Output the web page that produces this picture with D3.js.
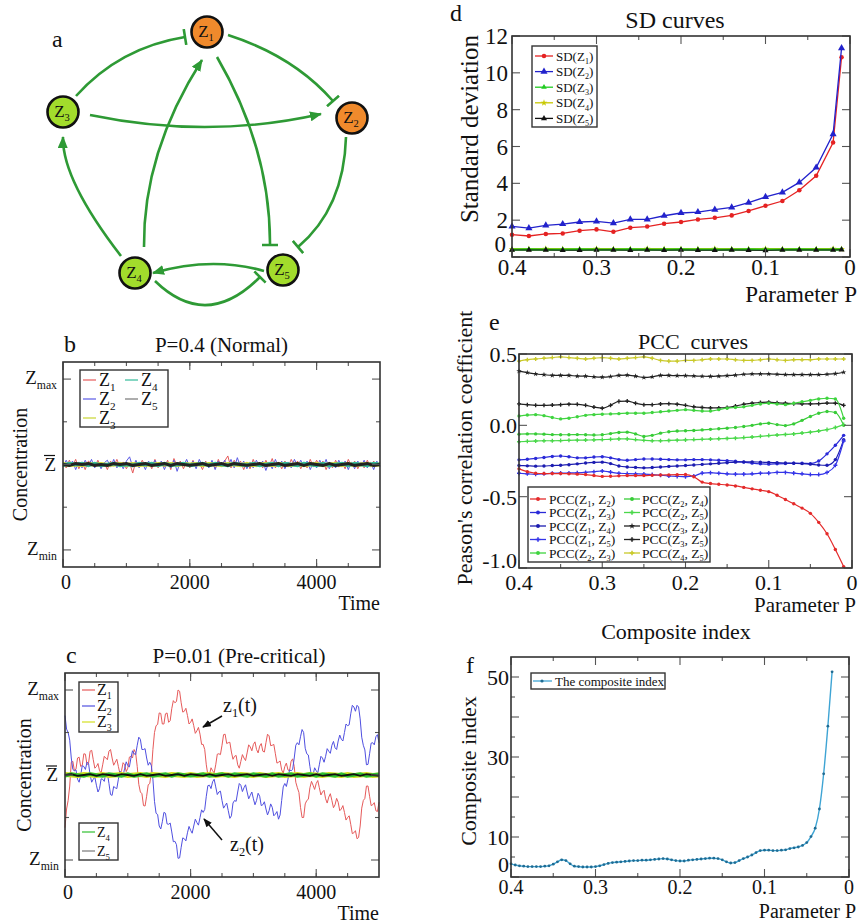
<!DOCTYPE html>
<html>
<head>
<meta charset="utf-8">
<script src="https://cdn.jsdelivr.net/npm/d3@7"></script>
<style>
  body { margin: 0; background: #fff; }
  svg text { font-family: "Liberation Serif", "DejaVu Serif", serif; fill: #111; }
</style>
</head>
<body>
<svg id="fig" width="860" height="923"></svg>
<script>
// ---------------- data ----------------
// panel b : P = 0.4, samples every 50 (Z1, Z2) and every 100 (Z3..Z5) time units
const bStep = 50, bStepSlow = 100;
const bZ1 = [
  0.02,-0.04,0.05,-0.02,0.06,-0.05,0.03,-0.06,0.04,0.01,
  -0.03,0.05,-0.04,0.02,-0.06,0.04,-0.02,0.06,-0.03,0.03,
  -0.05,0.02,-0.10,0.04,-0.03,0.05,-0.02,0.03,-0.05,0.06,
  -0.04,0.02,-0.03,0.05,-0.06,0.07,-0.02,0.04,-0.05,0.03,
  -0.04,0.05,-0.03,0.02,-0.06,0.04,-0.02,0.03,-0.05,0.06,
  -0.03,0.04,0.10,-0.04,0.05,-0.02,0.04,-0.06,0.03,-0.05,
  0.06,-0.03,0.02,-0.04,0.05,-0.02,0.07,-0.04,0.03,-0.05,
  0.04,-0.03,0.06,-0.02,0.04,-0.05,0.03,-0.04,0.06,-0.03,
  0.05,-0.02,0.04,-0.06,0.03,-0.04,0.05,-0.03,0.02,-0.05,
  0.06,-0.02,0.04,-0.05,0.03,-0.04,0.05,-0.03,0.04,-0.02,
  0.03];
const bZ2 = [
  -0.03,0.05,-0.02,0.04,-0.06,0.03,-0.04,0.05,-0.02,0.06,
  -0.04,0.03,-0.05,0.02,0.05,-0.03,0.06,-0.04,0.03,-0.05,
  0.04,0.09,-0.03,0.05,-0.04,0.02,-0.06,0.04,-0.03,0.05,
  -0.02,0.04,-0.06,0.03,-0.04,0.05,-0.08,0.03,-0.02,0.06,
  -0.03,0.04,-0.05,0.06,-0.02,0.03,-0.04,0.05,-0.06,0.04,
  -0.02,0.05,-0.03,0.06,-0.04,0.08,-0.03,0.04,-0.05,0.03,
  -0.04,0.05,-0.02,0.04,-0.07,0.03,-0.05,0.06,-0.03,0.04,
  -0.05,0.03,-0.04,0.06,-0.02,0.05,-0.03,0.04,-0.06,0.03,
  -0.04,0.05,-0.03,0.06,-0.05,0.02,-0.04,0.05,-0.03,0.04,
  -0.06,0.03,-0.05,0.04,-0.02,0.05,-0.04,0.03,-0.06,0.04,
  -0.03];
const bZ3 = [
  0.005,-0.005,0.00,-0.005,0.005,0.00,0.005,-0.005,0.00,0.005,
  -0.005,0.005,-0.005,0.00,-0.005,0.005,0.00,0.005,-0.005,0.005,
  0.00,0.005,-0.005,0.005,0.00,-0.005,0.005,0.00,-0.005,0.005,
  -0.005,0.00,0.005,-0.005,0.005,0.00,-0.005,0.005,-0.005,0.00,
  0.005,-0.005,0.00,0.005,-0.005,0.005,-0.005,0.00,0.005,-0.005,
  0.00];
const bZ4 = [
  -0.01,0.01,0.00,0.01,-0.01,0.01,-0.01,0.00,0.01,-0.01,
  0.00,-0.01,0.01,0.00,0.01,-0.01,0.01,-0.01,0.00,0.01,
  -0.01,0.00,0.01,-0.01,0.01,0.00,-0.01,0.01,0.00,-0.01,
  0.01,-0.01,0.00,0.01,-0.01,0.01,0.00,-0.01,0.01,0.00,
  -0.01,0.01,-0.01,0.00,0.01,-0.01,0.01,0.00,-0.01,0.01,
  0.00];
const bZ5 = [
  0.00,-0.01,0.01,0.00,0.01,-0.01,0.00,-0.01,0.01,0.00,
  0.01,-0.01,0.00,0.01,-0.01,0.00,0.01,-0.01,0.01,0.00,
  -0.01,0.00,0.01,-0.01,0.00,0.01,-0.01,0.01,0.00,-0.01,
  0.00,0.01,-0.01,0.00,0.01,-0.01,0.00,0.01,-0.01,0.01,
  0.00,-0.01,0.01,-0.01,0.00,0.01,-0.01,0.00,0.01,-0.01,
  0.00];

// panel c : P = 0.01, Z1 and Z2 every 25 time units, Z3..Z5 every 100
const cStep = 25, cStepSlow = 100;
const cZ1 = [
  -0.62,-0.40,-0.30,-0.13,0.15,0.16,0.05,0.07,0.20,0.21,0.10,0.115,0.25,0.245,0.12,0.14,0.28,0.29,0.18,0.08,
  0.10,0.135,0.05,0.025,0.12,0.22,0.20,0.18,0.28,0.30,0.20,0.115,0.15,0.185,0.10,0.015,0.05,0.145,0.12,0.04,
  0.08,0.21,0.22,0.20,0.30,0.26,0.10,-0.11,-0.20,-0.22,-0.36,-0.365,-0.25,-0.115,-0.10,0.04,0.30,0.50,0.58,0.595,
  0.73,0.725,0.60,0.60,0.72,0.73,0.62,0.64,0.78,0.875,0.85,0.865,1.00,0.985,0.85,0.74,0.75,0.785,0.70,0.60,
  0.62,0.66,0.58,0.49,0.52,0.56,0.48,0.36,0.36,0.30,0.12,0.00,0.00,0.085,0.05,0.025,0.12,0.245,0.25,0.24,
  0.35,0.475,0.48,0.37,0.38,0.385,0.27,0.185,0.22,0.23,0.12,0.08,0.16,0.24,0.20,0.17,0.26,0.355,0.33,0.285,
  0.36,0.39,0.30,0.26,0.34,0.37,0.28,0.27,0.38,0.48,0.46,0.345,0.35,0.36,0.25,0.14,0.15,0.165,0.06,0.02,
  0.10,0.14,0.06,0.05,0.16,0.19,0.10,-0.085,-0.15,-0.205,-0.38,-0.50,-0.50,-0.34,-0.30,-0.285,-0.15,-0.075,-0.12,-0.17,
  -0.10,-0.065,-0.15,-0.235,-0.20,-0.18,-0.28,-0.33,-0.26,-0.22,-0.30,-0.385,-0.35,-0.275,-0.32,-0.42,-0.40,-0.36,-0.44,-0.53,
  -0.50,-0.48,-0.58,-0.69,-0.68,-0.655,-0.75,-0.735,-0.60,-0.39,-0.30,-0.275,-0.13,-0.13,-0.25,-0.36,-0.35,-0.325,-0.42,-0.43,
  -0.32];
const cZ2 = [
  0.70,0.54,0.50,0.41,0.20,0.065,0.05,0.06,-0.05,-0.085,0.00,0.11,0.10,0.065,0.15,0.135,0.00,-0.085,-0.05,-0.025,
  -0.12,-0.20,-0.16,-0.045,-0.05,-0.075,0.02,0.02,-0.10,-0.23,-0.24,-0.135,-0.15,-0.16,-0.05,0.045,0.02,-0.01,0.08,0.155,
  0.11,0.095,0.20,0.285,0.25,0.24,0.35,0.445,0.42,0.30,0.30,0.31,0.20,0.115,0.15,0.11,-0.05,-0.31,-0.45,-0.465,
  -0.60,-0.635,-0.55,-0.44,-0.45,-0.575,-0.58,-0.565,-0.67,-0.785,-0.78,-0.82,-0.98,-0.975,-0.85,-0.74,-0.75,-0.775,-0.68,-0.605,
  -0.65,-0.685,-0.60,-0.52,-0.56,-0.59,-0.50,-0.41,-0.44,-0.405,-0.25,-0.125,-0.12,-0.16,-0.08,-0.05,-0.14,-0.23,-0.20,-0.19,
  -0.30,-0.39,-0.36,-0.33,-0.42,-0.51,-0.48,-0.33,-0.30,-0.31,-0.20,-0.10,-0.12,-0.195,-0.15,-0.115,-0.20,-0.28,-0.24,-0.20,
  -0.28,-0.35,-0.30,-0.215,-0.25,-0.36,-0.35,-0.315,-0.40,-0.47,-0.42,-0.34,-0.38,-0.48,-0.46,-0.43,-0.52,-0.47,-0.30,-0.14,
  -0.10,-0.135,-0.05,0.06,0.05,0.065,0.20,0.35,0.38,0.355,0.45,0.535,0.50,0.315,0.25,0.235,0.10,-0.01,0.00,0.085,
  0.05,0.025,0.12,0.22,0.20,0.15,0.22,0.31,0.28,0.255,0.35,0.395,0.32,0.30,0.40,0.47,0.42,0.40,0.50,0.60,
  0.58,0.59,0.72,0.82,0.80,0.75,0.82,0.80,0.66,0.445,0.35,0.295,0.12,0.125,0.25,0.375,0.38,0.355,0.45,0.475,
  0.38];
const cZ3 = [
  0.005,0.00,-0.005,0.005,0.00,-0.005,0.005,-0.005,0.00,0.005,
  -0.005,0.00,0.005,-0.005,0.005,0.00,-0.005,0.005,0.00,-0.005,
  0.005,-0.005,0.00,0.005,-0.005,0.005,0.00,-0.005,0.005,0.00,
  -0.005,0.005,-0.005,0.00,0.005,-0.005,0.00,0.005,-0.005,0.005,
  0.00,-0.005,0.005,0.00,-0.005,0.005,-0.005,0.00,0.005,-0.005,
  0.00];
const cZ4 = [
  -0.01,0.01,0.00,-0.01,0.01,0.00,-0.01,0.01,0.00,-0.01,
  0.01,-0.01,0.00,0.01,-0.01,0.00,0.01,-0.01,0.01,0.00,
  -0.01,0.00,0.01,-0.01,0.00,0.01,-0.01,0.01,0.00,-0.01,
  0.01,0.00,-0.01,0.01,-0.01,0.00,0.01,-0.01,0.00,0.01,
  -0.01,0.01,0.00,-0.01,0.01,-0.01,0.00,0.01,-0.01,0.00,
  0.01];
const cZ5 = [
  0.00,0.01,-0.01,0.00,0.01,-0.01,0.01,0.00,-0.01,0.01,
  0.00,-0.01,0.01,-0.01,0.00,0.01,-0.01,0.00,0.01,-0.01,
  0.01,0.00,-0.01,0.01,-0.01,0.00,0.01,-0.01,0.00,0.01,
  -0.01,0.00,0.01,-0.01,0.01,0.00,-0.01,0.01,0.00,-0.01,
  0.01,-0.01,0.00,0.01,-0.01,0.00,0.01,-0.01,0.01,0.00,
  -0.01];

// panel d : SD curves
const sdP  = [0.40,0.38,0.36,0.34,0.32,0.30,0.28,0.26,0.24,0.22,0.20,0.18,0.16,0.14,0.12,0.10,0.08,0.06,0.04,0.02,0.01];
const sdZ1 = [1.21,1.14,1.25,1.28,1.43,1.50,1.37,1.59,1.65,1.81,1.90,2.04,2.13,2.26,2.50,2.78,3.04,3.62,4.41,6.22,10.85];
const sdZ2 = [1.66,1.57,1.72,1.79,1.90,1.93,1.84,2.04,2.04,2.24,2.39,2.44,2.57,2.69,2.95,3.26,3.51,4.05,4.86,6.67,11.34];
const sdZ3 = [0.40,0.41,0.40,0.40,0.41,0.40,0.40,0.41,0.40,0.40,0.41,0.40,0.40,0.40,0.41,0.40,0.40,0.41,0.40,0.40,0.41];
const sdZ4 = [0.43,0.43,0.44,0.43,0.43,0.44,0.43,0.43,0.44,0.43,0.43,0.43,0.44,0.43,0.43,0.44,0.43,0.43,0.43,0.44,0.43];
const sdZ5 = [0.38,0.38,0.38,0.37,0.37,0.38,0.38,0.37,0.38,0.37,0.38,0.37,0.37,0.38,0.37,0.36,0.38,0.38,0.38,0.38,0.39];

// panel e : PCC curves
const pccP = [
  0.40,0.39,0.38,0.37,0.36,0.35,0.34,0.33,0.32,0.31,
  0.30,0.29,0.28,0.27,0.26,0.25,0.24,0.23,0.22,0.21,
  0.20,0.19,0.18,0.17,0.16,0.15,0.14,0.13,0.12,0.11,
  0.10,0.09,0.08,0.07,0.06,0.05,0.04,0.03,0.02,0.01];
const pcc12 = [
  -0.305,-0.325,-0.336,-0.338,-0.338,-0.338,-0.340,-0.342,-0.345,-0.352,
  -0.358,-0.357,-0.354,-0.352,-0.352,-0.352,-0.350,-0.348,-0.347,-0.346,
  -0.345,-0.360,-0.398,-0.408,-0.413,-0.418,-0.425,-0.435,-0.445,-0.455,
  -0.465,-0.490,-0.520,-0.550,-0.580,-0.617,-0.680,-0.760,-0.870,-0.990];
const pcc13 = [
  -0.242,-0.238,-0.232,-0.225,-0.218,-0.215,-0.220,-0.228,-0.228,-0.222,
  -0.220,-0.228,-0.240,-0.245,-0.240,-0.236,-0.236,-0.238,-0.240,-0.242,
  -0.242,-0.240,-0.240,-0.242,-0.245,-0.248,-0.252,-0.258,-0.265,-0.270,
  -0.272,-0.270,-0.268,-0.266,-0.266,-0.268,-0.250,-0.200,-0.140,-0.070];
const pcc14 = [
  -0.282,-0.284,-0.286,-0.285,-0.282,-0.280,-0.276,-0.270,-0.264,-0.260,
  -0.258,-0.268,-0.285,-0.292,-0.295,-0.298,-0.296,-0.292,-0.288,-0.285,
  -0.282,-0.278,-0.274,-0.270,-0.266,-0.262,-0.258,-0.256,-0.256,-0.258,
  -0.260,-0.262,-0.264,-0.266,-0.268,-0.272,-0.278,-0.280,-0.240,-0.100];
const pcc15 = [
  -0.336,-0.340,-0.343,-0.340,-0.336,-0.335,-0.334,-0.333,-0.330,-0.325,
  -0.320,-0.328,-0.336,-0.338,-0.340,-0.342,-0.345,-0.350,-0.355,-0.358,
  -0.360,-0.355,-0.335,-0.332,-0.336,-0.340,-0.342,-0.342,-0.340,-0.336,
  -0.335,-0.330,-0.330,-0.335,-0.340,-0.345,-0.345,-0.330,-0.280,-0.110];
const pcc23 = [
  0.065,0.072,0.075,0.068,0.055,0.045,0.050,0.060,0.070,0.075,
  0.078,0.080,0.082,0.085,0.085,0.085,0.090,0.095,0.100,0.105,
  0.110,0.105,0.100,0.100,0.110,0.120,0.125,0.130,0.140,0.150,
  0.155,0.150,0.145,0.155,0.165,0.175,0.185,0.190,0.185,0.050];
const pcc24 = [
  -0.062,-0.060,-0.060,-0.062,-0.065,-0.066,-0.066,-0.065,-0.066,-0.068,
  -0.066,-0.058,-0.050,-0.048,-0.060,-0.078,-0.070,-0.055,-0.045,-0.040,
  -0.038,-0.036,-0.032,-0.028,-0.024,-0.020,-0.015,-0.008,0.000,0.010,
  0.015,0.005,-0.002,0.010,0.035,0.062,0.085,0.097,0.090,0.000];
const pcc25 = [
  -0.115,-0.112,-0.110,-0.108,-0.108,-0.107,-0.105,-0.104,-0.103,-0.102,
  -0.100,-0.098,-0.095,-0.095,-0.100,-0.105,-0.108,-0.108,-0.106,-0.104,
  -0.102,-0.100,-0.098,-0.096,-0.094,-0.092,-0.090,-0.086,-0.082,-0.077,
  -0.072,-0.068,-0.064,-0.060,-0.054,-0.048,-0.040,-0.030,-0.015,0.005];
const pcc34 = [
  0.380,0.370,0.360,0.355,0.350,0.350,0.350,0.345,0.345,0.340,
  0.338,0.342,0.350,0.352,0.345,0.335,0.340,0.350,0.350,0.348,
  0.348,0.346,0.344,0.343,0.345,0.348,0.352,0.358,0.360,0.360,
  0.360,0.358,0.356,0.355,0.355,0.355,0.356,0.358,0.362,0.372];
const pcc35 = [
  0.150,0.145,0.140,0.140,0.142,0.145,0.148,0.147,0.140,0.128,
  0.120,0.140,0.168,0.170,0.155,0.145,0.145,0.150,0.152,0.148,
  0.140,0.130,0.125,0.122,0.122,0.125,0.135,0.148,0.155,0.160,
  0.162,0.158,0.155,0.152,0.150,0.150,0.152,0.156,0.155,0.140];
const pcc45 = [
  0.450,0.460,0.465,0.470,0.475,0.480,0.475,0.470,0.465,0.470,
  0.475,0.470,0.465,0.470,0.475,0.480,0.470,0.455,0.450,0.450,
  0.455,0.455,0.460,0.465,0.465,0.465,0.460,0.455,0.455,0.460,
  0.465,0.460,0.455,0.460,0.460,0.460,0.465,0.465,0.465,0.465];

// panel f : composite index
const ciP = [
  0.4,0.395,0.39,0.385,0.38,0.375,0.37,0.365,0.36,0.355,
  0.35,0.345,0.34,0.335,0.33,0.325,0.32,0.315,0.31,0.305,
  0.3,0.295,0.29,0.285,0.28,0.275,0.27,0.265,0.26,0.255,
  0.25,0.245,0.24,0.235,0.23,0.225,0.22,0.215,0.21,0.205,
  0.2,0.195,0.19,0.185,0.18,0.175,0.17,0.165,0.16,0.155,
  0.15,0.145,0.14,0.135,0.13,0.125,0.12,0.115,0.11,0.105,
  0.1,0.095,0.09,0.085,0.08,0.075,0.07,0.065,0.06,0.055,
  0.05,0.045,0.04,0.035,0.03,0.025,0.02];
const ciValue = [
  3.3,3.0,2.8,2.7,2.6,2.6,2.6,2.6,2.7,2.8,
  3.2,3.8,4.3,4.1,3.3,2.7,2.6,2.5,2.5,2.5,
  2.6,2.8,3.1,3.4,3.6,3.7,3.8,3.9,4.0,4.1,
  4.1,4.2,4.2,4.3,4.4,4.5,4.6,4.5,4.3,4.1,
  4.0,4.0,4.2,4.3,4.4,4.5,4.6,4.7,4.7,4.6,
  4.3,3.8,3.5,3.6,4.1,4.6,5.0,5.5,6.1,6.6,
  6.7,6.7,6.6,6.6,6.7,6.8,7.1,7.3,7.5,7.9,
  8.6,10.1,12.2,17.0,25.8,37.7,51.3];

// ---------------- helpers ----------------
var svg = d3.select('#fig');
var green = '#2e9a35', orange = '#f08a2c', lime = '#a2dc2c';

// text with "_x" or "_{xy}" subscripts
function rich(t, s, size) {
  var pending = 0;
  s.split(/(_\{[^}]*\}|_.)/).forEach(function(p) {
    if (!p) return;
    if (p[0] === '_') {
      var sub = p[1] === '{' ? p.slice(2, -1) : p.slice(1);
      t.append('tspan').attr('dy', pending + size * 0.25).attr('font-size', size * 0.62).text(sub);
      pending = -size * 0.25;
    } else {
      t.append('tspan').attr('dy', pending).attr('font-size', size).text(p);
      pending = 0;
    }
  });
  return t;
}

function label(g, x, y, s, size, anchor) {
  var t = g.append('text').attr('x', x).attr('y', y).attr('font-size', size)
    .attr('text-anchor', anchor || 'start');
  return rich(t, s, size);
}

function vlabel(g, x, y, s, size) {
  return g.append('text').attr('transform', 'translate(' + x + ',' + y + ') rotate(-90)')
    .attr('text-anchor', 'middle').attr('font-size', size).text(s);
}

// box with inward ticks on all four sides
function frame(g, sx, sy, o) {
  var x0 = Math.min.apply(null, sx.range()), x1 = Math.max.apply(null, sx.range());
  var yb = Math.max.apply(null, sy.range()), yt = Math.min.apply(null, sy.range());
  var tk = g.append('g').attr('stroke', '#555').attr('stroke-width', 1.1);
  function xt(v, len) {
    var X = sx(v);
    tk.append('line').attr('x1', X).attr('x2', X).attr('y1', yb).attr('y2', yb - len);
    tk.append('line').attr('x1', X).attr('x2', X).attr('y1', yt).attr('y2', yt + len);
  }
  function yt_(v, len) {
    var Y = sy(v);
    tk.append('line').attr('x1', x0).attr('x2', x0 + len).attr('y1', Y).attr('y2', Y);
    tk.append('line').attr('x1', x1).attr('x2', x1 - len).attr('y1', Y).attr('y2', Y);
  }
  (o.xMinor || []).forEach(function(v) { xt(v, 4); });
  (o.xMajor || []).forEach(function(v) { xt(v, 8); });
  (o.yMinor || []).forEach(function(v) { yt_(v, 4); });
  (o.yMajor || []).forEach(function(v) { yt_(v, 8); });
  g.append('rect').attr('x', x0).attr('y', yt).attr('width', x1 - x0).attr('height', yb - yt)
    .attr('fill', 'none').attr('stroke', '#333').attr('stroke-width', 1.6);
}

function legendBox(g, x, y, w, h) {
  g.append('rect').attr('x', x).attr('y', y).attr('width', w).attr('height', h)
    .attr('fill', '#fff').attr('stroke', '#333').attr('stroke-width', 1.4);
}

// ---------------- panel a : network ----------------
var layoutA = {
  nodes: { Z1: [207, 32, orange], Z2: [352, 118, orange], Z3: [63, 112, lime], Z4: [135, 273, lime], Z5: [283, 270, lime] },
  // start, point on curve, end, head type
  edges: [
    [[76, 96], [125, 57], [185, 37], 'bar'],
    [[228, 35], [287, 62], [333, 101], 'bar'],
    [[90, 115], [207, 127], [321, 114], 'arrow'],
    [[121, 256], [77, 188], [63, 137], 'arrow'],
    [[144, 247], [158, 153], [202, 60], 'arrow'],
    [[217, 57], [257, 150], [270, 245], 'bar'],
    [[346, 137], [333, 200], [298, 247], 'bar'],
    [[264, 271], [210, 264], [153, 273], 'arrow'],
    [[155, 281], [207, 305], [260, 277], 'bar']
  ]
};
var defs = svg.append('defs');
defs.append('marker').attr('id', 'arrow').attr('viewBox', '0 0 12 10')
  .attr('markerUnits', 'userSpaceOnUse').attr('markerWidth', 12).attr('markerHeight', 10)
  .attr('refX', 11).attr('refY', 5).attr('orient', 'auto')
  .append('path').attr('d', 'M0,0 L12,5 L0,10 z').attr('fill', green);
defs.append('marker').attr('id', 'bar').attr('viewBox', '0 0 4 16')
  .attr('markerUnits', 'userSpaceOnUse').attr('markerWidth', 4).attr('markerHeight', 16)
  .attr('refX', 2).attr('refY', 8).attr('orient', 'auto')
  .append('line').attr('x1', 2).attr('x2', 2).attr('y1', 0).attr('y2', 16)
  .attr('stroke', green).attr('stroke-width', 2.6);
defs.append('marker').attr('id', 'blackArrow').attr('viewBox', '0 0 10 8')
  .attr('markerUnits', 'userSpaceOnUse').attr('markerWidth', 9).attr('markerHeight', 7)
  .attr('refX', 9).attr('refY', 4).attr('orient', 'auto')
  .append('path').attr('d', 'M0,0 L10,4 L0,8 z').attr('fill', '#111');

var gA = svg.append('g');
layoutA.edges.forEach(function(e) {
  var s = e[0], m = e[1], t = e[2];
  var cx = 2 * m[0] - (s[0] + t[0]) / 2, cy = 2 * m[1] - (s[1] + t[1]) / 2;
  var p = d3.path();
  p.moveTo(s[0], s[1]);
  p.quadraticCurveTo(cx, cy, t[0], t[1]);
  gA.append('path').attr('d', p.toString()).attr('fill', 'none')
    .attr('stroke', green).attr('stroke-width', 2.6)
    .attr('marker-end', 'url(#' + e[3] + ')');
});
Object.keys(layoutA.nodes).forEach(function(k) {
  var n = layoutA.nodes[k];
  gA.append('circle').attr('cx', n[0]).attr('cy', n[1]).attr('r', 15.5)
    .attr('fill', n[2]).attr('stroke', '#111').attr('stroke-width', 2.6);
  label(gA, n[0] - 1, n[1] + 5, 'Z_' + k[1], 17, 'middle').attr('fill', '#333');
});
label(gA, 52, 47, 'a', 24);

// ---------------- panels b and c : time series ----------------
function zTicks(g, sy, x0) {
  label(g, x0 - 6, sy(1) + 5, 'Z_{max}', 19, 'end');
  label(g, x0 - 6, sy(-1) + 5, 'Z_{min}', 19, 'end');
  g.append('text').attr('x', x0 - 7).attr('y', sy(0) + 6).attr('text-anchor', 'end')
    .attr('font-size', 19).text('Z');
  g.append('line').attr('x1', x0 - 19).attr('x2', x0 - 8).attr('y1', sy(0) - 9).attr('y2', sy(0) - 9)
    .attr('stroke', '#111').attr('stroke-width', 1.2);
}

function timePanel(cfg) {
  var g = svg.append('g');
  var sx = d3.scaleLinear().domain([0, 5000]).range(cfg.xr);
  var sy = d3.scaleLinear().domain([-1.2, 1.2]).range(cfg.yr);
  cfg.series.forEach(function(s) {
    var line = d3.line().x(function(d, i) { return sx(i * s.step); }).y(function(d) { return sy(d); });
    g.append('path').attr('d', line(s.values)).attr('fill', 'none')
      .attr('stroke', s.color).attr('stroke-width', s.width || 1);
  });
  frame(g, sx, sy, { xMajor: [0, 2000, 4000], xMinor: d3.range(500, 5000, 500),
                     yMajor: [-1, 0, 1], yMinor: [-0.5, 0.5] });
  [0, 2000, 4000].forEach(function(v) {
    g.append('text').attr('x', sx(v) + (v === 0 ? 3 : 0)).attr('y', cfg.yr[0] + 22)
      .attr('text-anchor', 'middle').attr('font-size', 20).text(v);
  });
  g.append('text').attr('x', cfg.xr[1]).attr('y', cfg.yr[0] + 43).attr('text-anchor', 'end')
    .attr('font-size', 20).text('Time');
  zTicks(g, sy, cfg.xr[0]);
  vlabel(g, cfg.ylabX, sy(0), 'Concentration', 20);
  g.append('text').attr('x', (cfg.xr[0] + cfg.xr[1]) / 2 + cfg.titleDx).attr('y', cfg.yr[1] - 10)
    .attr('text-anchor', 'middle').attr('font-size', 21).text(cfg.title);
  g.append('text').attr('x', cfg.xr[0] + 1).attr('y', cfg.yr[1] - 10).attr('font-size', 24).text(cfg.tag);
  return { g: g, sx: sx, sy: sy };
}

var colB = { z1: '#e65a5a', z2: '#5a5ae6', z3: '#c9d631', z4: '#33bb99', z5: '#222' };
var pb = timePanel({
  xr: [63, 380], yr: [567, 362], ylabX: 27, title: 'P=0.4 (Normal)', titleDx: 0, tag: 'b',
  series: [
    { values: bZ1, step: bStep, color: colB.z1 },
    { values: bZ2, step: bStep, color: colB.z2 },
    { values: bZ3, step: bStepSlow, color: colB.z3, width: 4 },
    { values: bZ4, step: bStepSlow, color: colB.z4, width: 3.5 },
    { values: bZ5, step: bStepSlow, color: colB.z5, width: 3 }
  ]
});
// legend b
(function() {
  var g = pb.g;
  legendBox(g, 80, 370, 88, 57);
  var items = [['Z_1', colB.z1, 83, 380], ['Z_4', colB.z4, 125, 380], ['Z_2', colB.z2, 83, 399],
               ['Z_5', '#777', 125, 399], ['Z_3', colB.z3, 83, 418]];
  items.forEach(function(it) {
    g.append('line').attr('x1', it[2]).attr('x2', it[2] + 13).attr('y1', it[3]).attr('y2', it[3])
      .attr('stroke', it[1]).attr('stroke-width', 1.2);
    label(g, it[2] + 16, it[3] + 6, it[0], 18);
  });
})();

var colC = { z1: '#e65a5a', z2: '#4f4fe0', z3: '#d4e020', z4: '#2fc02f', z5: '#111' };
var pc = timePanel({
  xr: [65, 379], yr: [877, 673], ylabX: 31, title: 'P=0.01 (Pre-critical)', titleDx: 17, tag: 'c',
  series: [
    { values: cZ1, step: cStep, color: colC.z1 },
    { values: cZ2, step: cStep, color: colC.z2 },
    { values: cZ3, step: cStepSlow, color: colC.z3, width: 5 },
    { values: cZ4, step: cStepSlow, color: colC.z4, width: 3.5 },
    { values: cZ5, step: cStepSlow, color: colC.z5, width: 1.8 }
  ]
});
(function() {
  var g = pc.g;
  legendBox(g, 79, 682, 39, 50);
  legendBox(g, 79, 823, 39, 37);
  [['Z_1', colC.z1, 690, 16], ['Z_2', colC.z2, 706, 16], ['Z_3', colC.z3, 722, 16],
   ['Z_4', colC.z4, 832, 14], ['Z_5', '#777', 851, 14]]
    .forEach(function(it) {
      g.append('line').attr('x1', 82).attr('x2', 95).attr('y1', it[2]).attr('y2', it[2])
        .attr('stroke', it[1]).attr('stroke-width', 1.2);
      label(g, 97, it[2] + 5, it[0], it[3]);
    });
  label(g, 223, 712, 'z_1(t)', 20);
  label(g, 230, 851, 'z_2(t)', 20);
  g.append('line').attr('x1', 222).attr('y1', 716).attr('x2', 203).attr('y2', 727)
    .attr('stroke', '#111').attr('stroke-width', 1.5).attr('marker-end', 'url(#blackArrow)');
  g.append('line').attr('x1', 222).attr('y1', 840).attr('x2', 204).attr('y2', 819)
    .attr('stroke', '#111').attr('stroke-width', 1.5).attr('marker-end', 'url(#blackArrow)');
})();

// ---------------- right column: parameter P panels ----------------
function pAxis(g, sx, yBase, size) {
  [0.4, 0.3, 0.2, 0.1, 0].forEach(function(v) {
    g.append('text').attr('x', sx(v)).attr('y', yBase).attr('text-anchor', 'middle')
      .attr('font-size', size).text(v === 0 ? '0' : v.toFixed(1));
  });
}

// panel d
(function() {
  var g = svg.append('g');
  var sx = d3.scaleLinear().domain([0.4, 0]).range([512, 850]);
  var sy = d3.scaleLinear().domain([0, 12]).range([257, 36]);
  var series = [
    { v: sdZ4, c: '#c8c800', sym: d3.symbolStar, sz: 14, w: 2, name: 'SD(Z_4)' },
    { v: sdZ3, c: '#22cc22', sym: d3.symbolTriangle, sz: 14, w: 2.4, name: 'SD(Z_3)' },
    { v: sdZ5, c: '#111', sym: d3.symbolTriangle, sz: 16, w: 1, name: 'SD(Z_5)' },
    { v: sdZ1, c: '#e52222', sym: d3.symbolCircle, sz: 16, w: 1.3, name: 'SD(Z_1)' },
    { v: sdZ2, c: '#2222cc', sym: d3.symbolTriangle, sz: 22, w: 1.3, name: 'SD(Z_2)' }
  ];
  series.forEach(function(s) {
    var line = d3.line().x(function(d, i) { return sx(sdP[i]); }).y(function(d) { return sy(d); });
    g.append('path').attr('d', line(s.v)).attr('fill', 'none').attr('stroke', s.c).attr('stroke-width', s.w);
    g.selectAll(null).data(s.v).enter().append('path')
      .attr('d', d3.symbol().type(s.sym).size(s.sz))
      .attr('transform', function(d, i) { return 'translate(' + sx(sdP[i]) + ',' + sy(d) + ')'; })
      .attr('fill', s.c);
  });
  frame(g, sx, sy, { xMajor: [0.4, 0.3, 0.2, 0.1, 0], xMinor: [0.35, 0.25, 0.15, 0.05],
                     yMajor: [0, 2, 4, 6, 8, 10, 12] });
  [2, 4, 6, 8, 10, 12].forEach(function(v) {
    g.append('text').attr('x', 508).attr('y', sy(v) + 8).attr('text-anchor', 'end').attr('font-size', 23).text(v);
  });
  g.append('text').attr('x', 506).attr('y', sy(0) - 5).attr('text-anchor', 'end').attr('font-size', 23).text('0');
  pAxis(g, sx, 275, 23);
  g.append('text').attr('x', 857).attr('y', 302).attr('text-anchor', 'end').attr('font-size', 23).text('Parameter P');
  vlabel(g, 478, 129, 'Standard deviation', 25);
  g.append('text').attr('x', 675).attr('y', 28).attr('text-anchor', 'middle').attr('font-size', 24).text('SD curves');
  g.append('text').attr('x', 450).attr('y', 21).attr('font-size', 24).text('d');
  // legend
  legendBox(g, 532, 46, 65, 81);
  var order = [series[3], series[4], series[1], series[0], series[2]];
  order.forEach(function(s, i) {
    var y = 56 + i * 15.6;
    g.append('line').attr('x1', 535).attr('x2', 553).attr('y1', y).attr('y2', y).attr('stroke', s.c).attr('stroke-width', 1.3);
    g.append('path').attr('d', d3.symbol().type(s.sym).size(s.sz)).attr('transform', 'translate(544,' + y + ')').attr('fill', s.c);
    label(g, 556, y + 4.5, s.name, 13);
  });
})();

// panel e
(function() {
  var g = svg.append('g');
  var sx = d3.scaleLinear().domain([0.4, 0]).range([519, 852]);
  var sy = d3.scaleLinear().domain([-1, 0.5]).range([568, 354]);
  var series = [
    { v: pcc45, c: '#c9c92a', sym: d3.symbolCross, name: 'PCC(Z_4, Z_5)' },
    { v: pcc34, c: '#222', sym: d3.symbolStar, name: 'PCC(Z_3, Z_4)' },
    { v: pcc35, c: '#222', sym: d3.symbolCross, name: 'PCC(Z_3, Z_5)' },
    { v: pcc23, c: '#3fd43f', sym: d3.symbolCircle, name: 'PCC(Z_2, Z_3)' },
    { v: pcc24, c: '#38cc38', sym: d3.symbolCircle, name: 'PCC(Z_2, Z_4)' },
    { v: pcc25, c: '#4ad84a', sym: d3.symbolCross, name: 'PCC(Z_2, Z_5)' },
    { v: pcc13, c: '#2a2ad8', sym: d3.symbolCircle, name: 'PCC(Z_1, Z_3)' },
    { v: pcc14, c: '#1c1cb0', sym: d3.symbolCircle, name: 'PCC(Z_1, Z_4)' },
    { v: pcc15, c: '#3434e8', sym: d3.symbolCross, name: 'PCC(Z_1, Z_5)' },
    { v: pcc12, c: '#e42a2a', sym: d3.symbolCircle, name: 'PCC(Z_1, Z_2)' }
  ];
  series.forEach(function(s) {
    var line = d3.line().curve(d3.curveMonotoneX).x(function(d, i) { return sx(pccP[i]); }).y(function(d) { return sy(d); });
    g.append('path').attr('d', line(s.v)).attr('fill', 'none').attr('stroke', s.c).attr('stroke-width', 1.2);
    g.selectAll(null).data(s.v).enter().append('path')
      .attr('d', d3.symbol().type(s.sym).size(9))
      .attr('transform', function(d, i) { return 'translate(' + sx(pccP[i]) + ',' + sy(d) + ')'; })
      .attr('fill', s.c);
  });
  frame(g, sx, sy, { xMajor: [0.4, 0.3, 0.2, 0.1, 0], xMinor: [0.35, 0.25, 0.15, 0.05],
                     yMajor: [-1, -0.5, 0, 0.5] });
  [0.5, 0, -0.5, -1].forEach(function(v) {
    g.append('text').attr('x', 517).attr('y', sy(v) + (v === -1 ? 0 : 8)).attr('text-anchor', 'end')
      .attr('font-size', 22).text(v.toFixed(1));
  });
  pAxis(g, sx, 590, 22);
  g.append('text').attr('x', 856).attr('y', 612).attr('text-anchor', 'end').attr('font-size', 21).text('Parameter P');
  vlabel(g, 472, 448, "Peason's correlation coefficient", 22);
  g.append('text').attr('x', 693).attr('y', 349).attr('text-anchor', 'middle').attr('font-size', 22)
    .attr('xml:space', 'preserve').text('PCC  curves');
  g.append('text').attr('x', 489).attr('y', 330).attr('font-size', 24).text('e');
  // legend
  legendBox(g, 528, 487, 182, 75);
  var left = [series[9], series[6], series[7], series[8], series[3]];
  var right = [series[4], series[5], series[1], series[2], series[0]];
  [[left, 530, 549], [right, 624, 642]].forEach(function(col) {
    col[0].forEach(function(s, i) {
      var y = 499 + i * 13.5;
      g.append('line').attr('x1', col[1]).attr('x2', col[1] + 16).attr('y1', y).attr('y2', y).attr('stroke', s.c).attr('stroke-width', 1.3);
      g.append('path').attr('d', d3.symbol().type(s.sym).size(12)).attr('transform', 'translate(' + (col[1] + 8) + ',' + y + ')').attr('fill', s.c);
      label(g, col[2], y + 4.5, s.name, 13.5);
    });
  });
})();

// panel f
(function() {
  var g = svg.append('g');
  var sx = d3.scaleLinear().domain([0.4, 0]).range([511, 849]);
  var sy = d3.scaleLinear().domain([0, 55]).range([877, 657]);
  var line = d3.line().curve(d3.curveMonotoneX).x(function(d, i) { return sx(ciP[i]); }).y(function(d) { return sy(d); });
  g.append('path').attr('d', line(ciValue)).attr('fill', 'none').attr('stroke', '#3ea4d4').attr('stroke-width', 1.4);
  g.selectAll(null).data(ciValue).enter().append('circle')
    .attr('cx', function(d, i) { return sx(ciP[i]); }).attr('cy', function(d) { return sy(d); })
    .attr('r', 1.4).attr('fill', '#1f6b92');
  frame(g, sx, sy, { xMajor: [0.4, 0.3, 0.2, 0.1, 0], xMinor: [0.35, 0.25, 0.15, 0.05],
                     yMajor: [0, 10, 20, 30, 40, 50], yMinor: [5, 15, 25, 35, 45] });
  [50, 30, 10].forEach(function(v) {
    g.append('text').attr('x', 509).attr('y', sy(v) + 8).attr('text-anchor', 'end').attr('font-size', 22).text(v);
  });
  g.append('text').attr('x', 509).attr('y', sy(0) - 5).attr('text-anchor', 'end').attr('font-size', 22).text('0');
  pAxis(g, sx, 894, 20);
  g.append('text').attr('x', 856).attr('y', 918).attr('text-anchor', 'end').attr('font-size', 20).text('Parameter P');
  vlabel(g, 476, 771, 'Composite index', 22);
  g.append('text').attr('x', 676).attr('y', 639).attr('text-anchor', 'middle').attr('font-size', 22).text('Composite index');
  g.append('text').attr('x', 466).attr('y', 673).attr('font-size', 24).text('f');
  legendBox(g, 531, 673, 134, 16);
  g.append('line').attr('x1', 533).attr('x2', 552).attr('y1', 681).attr('y2', 681).attr('stroke', '#3ea4d4').attr('stroke-width', 1.3);
  g.append('circle').attr('cx', 542).attr('cy', 681).attr('r', 1.6).attr('fill', '#1f6b92');
  g.append('text').attr('x', 555).attr('y', 685.5).attr('font-size', 13).text('The composite index');
})();
</script>
</body>
</html>
